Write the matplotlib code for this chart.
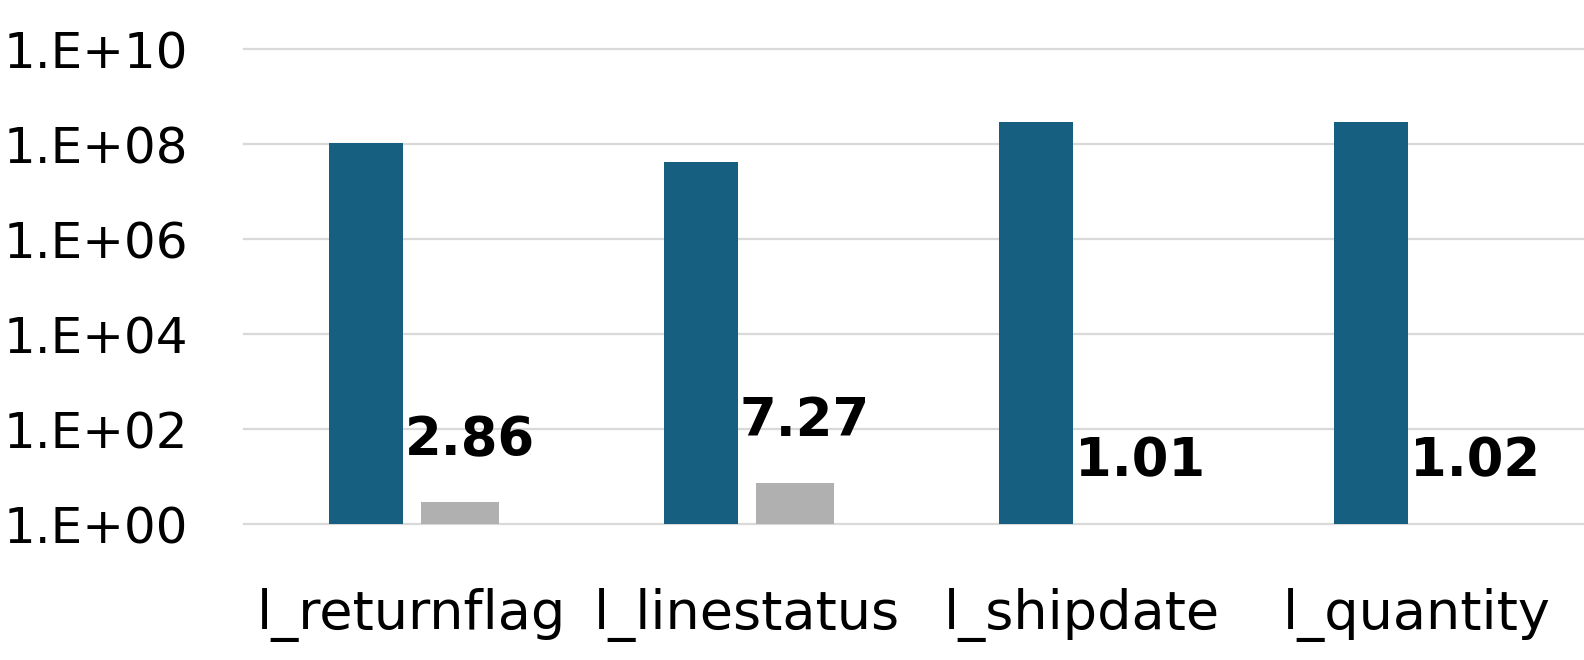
import numpy as np
import matplotlib.pyplot as plt

plt.rcParams['font.family'] = ['DejaVu Sans']

columns = ['l_returnflag', 'l_linestatus', 'l_shipdate', 'l_quantity']
blue_vals = [1.05e8, 4.2e7, 2.9e8, 2.9e8]
grey_vals = [2.86, 7.27, 1.01, 1.02]
grey_labels = ['2.86', '7.27', '1.01', '1.02']
yticks = [1e0, 1e2, 1e4, 1e6, 1e8, 1e10]
ytick_labels = ['1.E+00', '1.E+02', '1.E+04', '1.E+06', '1.E+08', '1.E+10']

fig = plt.figure(figsize=(15.84, 6.6), dpi=100)
ax = fig.add_axes([0.154, 0.206, 0.846, 0.719])

x = np.arange(len(columns))
ax.bar(x - 0.135, blue_vals, width=0.22, color='#175f80', zorder=3)
ax.bar(x + 0.145, grey_vals, width=0.235, color='#b0b0b0', zorder=3)

# 数值标注
for i, v in enumerate(grey_vals):
    ax.annotate(grey_labels[i], (x[i] + 0.145, v), xytext=(7, 45),
                textcoords='offset points', ha='center', va='center',
                fontsize=38, fontweight='bold', zorder=4)

ax.set_yscale('log')
ax.set_ylim(1, 1e10)
ax.set_xlim(-0.5, 3.5)
ax.set_yticks(yticks)
ax.set_yticklabels(ytick_labels)
ax.minorticks_off()
ax.set_xticks(x)
ax.set_xticklabels(columns)
ax.tick_params(axis='y', length=0, pad=40, labelsize=36)
ax.tick_params(axis='x', length=0, pad=46, labelsize=39)
ax.grid(axis='y', color='#d9d9d9', linewidth=1.6, zorder=0)
for gl in ax.get_ygridlines():
    gl.set_clip_on(False)
for s in ax.spines.values():
    s.set_visible(False)

plt.savefig('out.png', dpi=100)
